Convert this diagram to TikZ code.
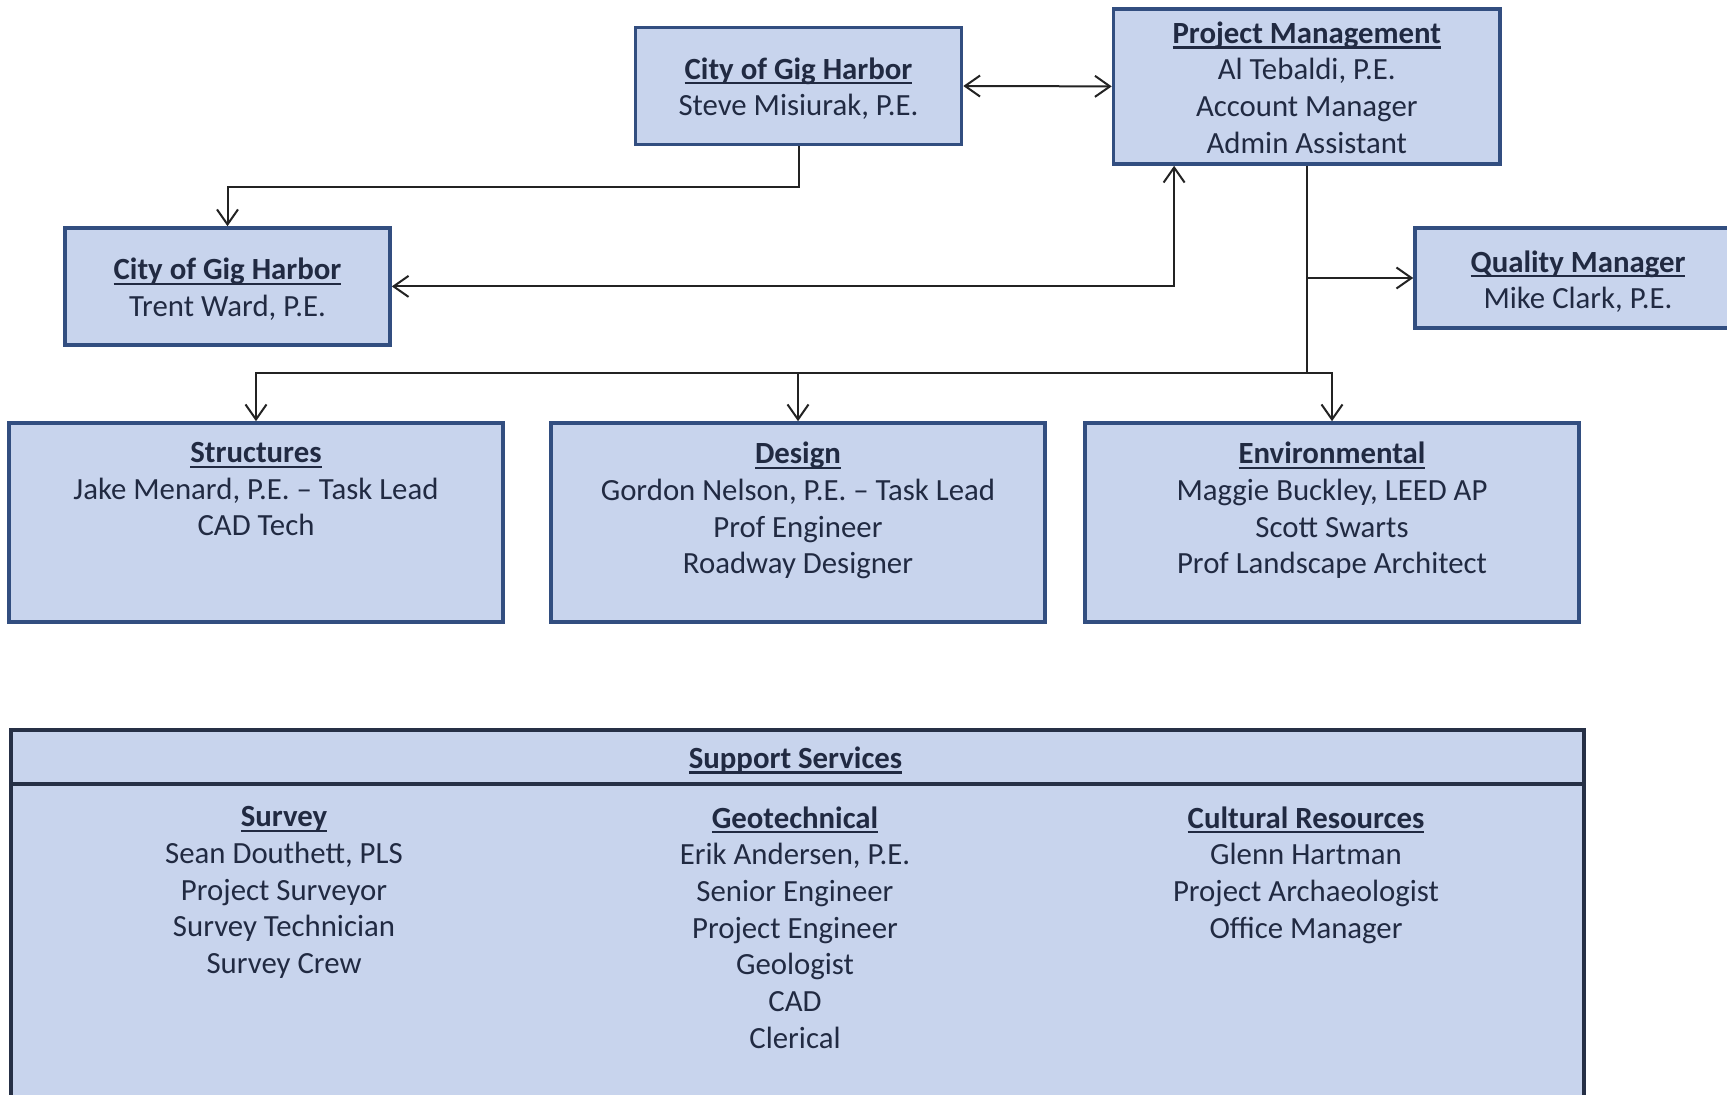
\documentclass[tikz,border=0pt]{standalone}
\usepackage{fontspec}
\setmainfont{Carlito}
\usetikzlibrary{arrows.meta,positioning}

\definecolor{boxfill}{RGB}{200,212,237}
\definecolor{boxline}{RGB}{50,78,128}
\definecolor{boxtext}{RGB}{33,42,66}
\definecolor{suppline}{RGB}{38,48,70}
\definecolor{wirecol}{RGB}{35,35,35}

% bold heading with a fixed-depth underline
\newcommand\boxhead[1]{\setbox0\hbox{\textbf{#1}}\rlap{\rule[-2.7pt]{\wd0}{1.1pt}}\box0}

\begin{document}
\begin{tikzpicture}[x=0.5pt,y=-0.5pt, font=\fontsize{15.4}{18.35}\selectfont, text=boxtext,
    >={Straight Barb[length=7.5pt,width=10.5pt]}]
        \tikzset{unit/.style={draw=boxline, fill=boxfill, line width=1.8pt, inner sep=0pt},
                 boxtxt/.style={align=center, inner sep=0pt},
                 teamtext/.style={align=center, inner sep=0pt, anchor=north},
                 wire/.style={draw=wirecol, line width=1pt}}
        \fill[white] (0,0) rectangle (1727,1095);
        \useasboundingbox (0,0) rectangle (1727,1095);

        % city and management
        \node[unit, minimum width=163pt, minimum height=58.5pt] (cityA) at (798.5,86) {};
        \node[unit, minimum width=193.3pt, minimum height=77.6pt] (pm) at (1306.8,86.4) {};
        \node[unit, minimum width=162.5pt, minimum height=58.4pt] (cityB) at (227.5,286.4) {};
        \node[unit, minimum width=163pt, minimum height=50pt] (qm) at (1578,278) {};
        \node[boxtxt, yshift=-1.3pt] (cityAtxt) at (cityA) {\boxhead{City of Gig Harbor}\\Steve Misiurak, P.E.};
        \node[boxtxt, yshift=-0.6pt] (pmtxt) at (pm)
            {\boxhead{Project Management}\\Al Tebaldi, P.E.\\Account Manager\\Admin Assistant};
        \node[boxtxt, yshift=-1.3pt] (cityBtxt) at (cityB) {\boxhead{City of Gig Harbor}\\Trent Ward, P.E.};
        \node[boxtxt, yshift=-1.8pt] (qmtxt) at (qm) {\boxhead{Quality Manager}\\Mike Clark, P.E.};

        % task teams
        \node[unit, minimum width=247pt, minimum height=99.5pt] (struct) at (256,522.5) {};
        \node[unit, minimum width=247pt, minimum height=99.5pt] (design) at (798,522.5) {};
        \node[unit, minimum width=247pt, minimum height=99.5pt] (env) at (1332,522.5) {};
        \node[teamtext, yshift=-10.3pt] (structtxt) at (struct.north)
            {\boxhead{Structures}\\Jake Menard, P.E. -- Task Lead\\CAD Tech};
        \node[teamtext, yshift=-10.3pt] (designtxt) at (design.north)
            {\boxhead{Design}\\Gordon Nelson, P.E. -- Task Lead\\Prof Engineer\\Roadway Designer};
        \node[teamtext, yshift=-10.3pt] (envtxt) at (env.north)
            {\boxhead{Environmental}\\Maggie Buckley, LEED AP\\Scott Swarts\\Prof Landscape Architect};

        % support services panel
        \node[draw=suppline, fill=boxfill, line width=1.8pt, inner sep=0pt, anchor=north west,
              minimum width=786.5pt, minimum height=200pt] (supp) at (9,728) {};
        \draw[draw=suppline, line width=1.8pt] ([yshift=-28pt]supp.north west) -- ([yshift=-28pt]supp.north east);
        \node[inner sep=0pt] (supphead) at (795.5,760) {\boxhead{Support Services}};
        \node[teamtext] (survey) at (284,806)
            {\boxhead{Survey}\\Sean Douthett, PLS\\Project Surveyor\\Survey Technician\\Survey Crew};
        \node[teamtext] (geo) at (795,806)
            {\boxhead{Geotechnical}\\Erik Andersen, P.E.\\Senior Engineer\\Project Engineer\\Geologist\\CAD\\Clerical};
        \node[teamtext] (cultural) at (1306,806)
            {\boxhead{Cultural Resources}\\Glenn Hartman\\Project Archaeologist\\Office Manager};

        % connectors
        \draw[wire,<->] (cityA.east) -- (pm.west);
        \draw[wire,->] (cityA.south) -- ++(0,41) -| (cityB.north);
        \draw[wire,<->] (cityB.east) -| ([xshift=31.2pt]pm.south west);
        \coordinate (bus) at (pm.south |- 0,373);
        \draw[wire] (pm.south) -- (bus);
        \draw[wire,->] (pm.south |- qm.west) -- (qm.west);
        \draw[wire,->] (bus) -| (struct.north);
        \draw[wire,->] (bus) -| (design.north);
        \draw[wire,->] (bus) -| (env.north);
\end{tikzpicture}
\end{document}
